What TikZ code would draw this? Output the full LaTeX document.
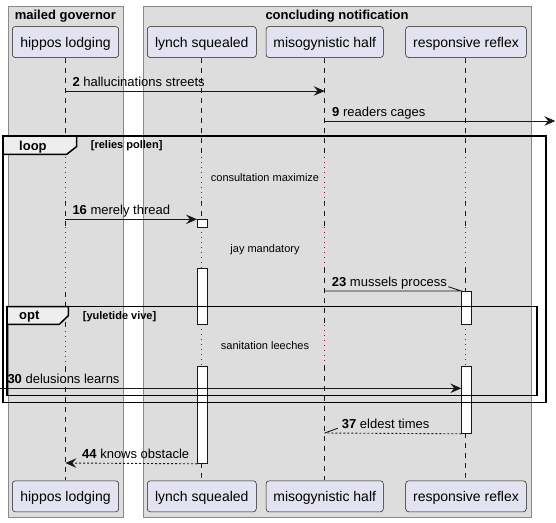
\documentclass[tikz,border=0pt]{standalone}
\usepackage{fontspec}
\setmainfont{Liberation Sans}
\usetikzlibrary{arrows.meta}
\definecolor{grpfill}{HTML}{DDDDDD}
\definecolor{grpdraw}{HTML}{8A8A8A}
\definecolor{partfill}{HTML}{E2E2F0}
\definecolor{ink}{HTML}{181818}
\definecolor{delayc}{HTML}{A80036}
\definecolor{tabfill}{HTML}{EEEEEE}
\tikzset{
  grp/.style={draw=grpdraw, fill=grpfill, line width=0.8pt, rectangle, inner sep=0pt, anchor=north west},
  grptitle/.style={font=\fontsize{13}{15}\selectfont\bfseries, inner sep=0pt, anchor=base},
  part/.style={draw=ink, fill=partfill, line width=0.5pt, rounded corners=3pt, rectangle,
    minimum height=31pt, inner sep=0pt, text height=12pt, text depth=2pt,
    font=\fontsize{14}{16}\selectfont},
  life/.style={draw=ink, line width=0.5pt, dash pattern=on 5pt off 5pt},
  dly/.style={draw=delayc, line width=0.8pt, dash pattern=on 1pt off 4pt},
  actbar/.style={draw=ink, fill=white, line width=0.8pt, rectangle, inner sep=0pt,
    minimum width=10pt, anchor=north west},
  frm/.style={draw=black, line width=1.5pt},
  tabshape/.style={draw=black, line width=1.5pt, fill=tabfill},
  frmlabel/.style={font=\fontsize{13}{15}\selectfont\bfseries, inner sep=0pt, anchor=base west},
  frmcond/.style={font=\fontsize{11}{13}\selectfont\bfseries, inner sep=0pt, anchor=base west},
  msg/.style={draw=ink, line width=0.9pt},
  msgtip/.style={-{Stealth[length=11pt,width=9.5pt,inset=4pt]}},
  msgdash/.style={draw=ink, line width=0.9pt, dash pattern=on 2pt off 2pt},
  msglabel/.style={font=\fontsize{13}{15}\selectfont, inner sep=0pt, anchor=base west},
  dlylabel/.style={font=\fontsize{11}{13}\selectfont, inner sep=0pt, anchor=base}
}
\begin{document}
\begin{tikzpicture}[x=1pt,y=-1pt]
\useasboundingbox (0,0) rectangle (556,522);
\fill[white] (0,0) rectangle (556,522);
\def\hx{65.4}\def\lx{201.4}\def\mx{324.7}\def\rx{465.4}
% group boxes
\node[grp, minimum width=114.7pt, minimum height=511.3pt] (g1) at (8,6) {};
\node[grp, minimum width=387.4pt, minimum height=511.3pt] (g2) at (143.3,6) {};
\node[grptitle] (g1t) at (65.4,19) {mailed governor};
\node[grptitle] (g2t) at (337,19) {concluding notification};
% participants
\node[part, minimum width=106.4pt] (hT) at (65.5,42) {hippos lodging};
\node[part, minimum width=109pt] (lT) at (201.8,42) {lynch squealed};
\node[part, minimum width=117.3pt] (mT) at (324.7,42) {misogynistic half};
\node[part, minimum width=120.6pt] (rT) at (466,42) {responsive reflex};
\node[part, minimum width=106.4pt] (hB) at (65.5,496.3) {hippos lodging};
\node[part, minimum width=109pt] (lB) at (201.8,496.3) {lynch squealed};
\node[part, minimum width=117.3pt] (mB) at (324.7,496.3) {misogynistic half};
\node[part, minimum width=120.6pt] (rB) at (466,496.3) {responsive reflex};
% lifelines: dashed parts
\foreach \x/\a/\b in {\hx/57.5/157,\hx/201/227,\hx/292/326,\hx/367/480,
                      \lx/57.5/157,\lx/201/219.3,\lx/463/480,
                      \mx/57.5/157,\mx/201/227,\mx/268/325,\mx/366/480,
                      \rx/57.5/157,\rx/201/227,\rx/268/291,\rx/433/480}
  \draw[life] (\x,\a) -- (\x,\b);
% lifelines: delay parts
\foreach \x/\a/\b in {\hx/157/201,\hx/227/292,\hx/326/367,
                      \lx/157/201,\lx/227.3/268.3,\lx/324.3/366,
                      \mx/157/201,\mx/227/268,\mx/325/366,
                      \rx/157/201,\rx/227/268,\rx/324.3/366}
  \draw[dly] (\x,\a) -- (\x,\b);
% activation bars
\node[actbar, minimum height=8pt] (lb1) at (197,219.3) {};
\node[actbar, minimum height=56pt] (lb2) at (197,268.3) {};
\node[actbar, minimum height=97pt] (lb3) at (197,366) {};
\node[actbar, minimum height=33.3pt] (rb1) at (461.3,291) {};
\node[actbar, minimum height=67pt] (rb2) at (461.3,366) {};
% loop frame
\draw[frm] (3,136) rectangle (546,402.7);
\draw[tabshape] (3,136) -- (76.7,136) -- (76.7,146.5) -- (66.7,154.3) -- (3,154.3) -- cycle;
\node[frmlabel] (loopl) at (19,150.6) {loop};
\node[frmcond] (loopc) at (90.7,148.7) {[relies pollen]};
% opt frame
\draw[frm] (7,306.7) rectangle (537,395.7);
\draw[tabshape] (7,306.7) -- (68.3,306.7) -- (68.3,315.7) -- (59.3,324.3) -- (7,324.3) -- cycle;
\node[frmlabel] (optl) at (19,319.6) {opt};
\node[frmcond] (optc) at (82.7,319) {[yuletide vive]};
% delay labels
\node[dlylabel] (d1) at (265,181) {consultation maximize};
\node[dlylabel] (d2) at (265,252.5) {jay mandatory};
\node[dlylabel] (d3) at (265,349.5) {sanitation leeches};
% message end points
\coordinate (m2s) at (\hx,91);   \coordinate (m2e) at (\mx,91);
\coordinate (m9s) at (\mx,121);  \coordinate (m9e) at (555.3,121);
\coordinate (m16s) at (\hx,219.3);
\coordinate (m23s) at (\mx,291);
\coordinate (m30s) at (0,388.3); \coordinate (m30e) at (461.3,388.3);
\coordinate (m37e) at (\mx,433);
\coordinate (m44e) at (\hx,463);
% messages
\draw[msg, msgtip] (m2s) -- (m2e);
\draw[msg, msgtip] (m9s) -- (m9e);
\draw[msg, msgtip] (m16s) -- (lb1.north west);
\draw[msg] (m23s) -- (rb1.north west) -- ++(-13,-4.3);
\draw[msg, msgtip] (m30s) -- (m30e);
\draw[msgdash] (rb2.south west) -- (m37e);
\draw[msg] (m37e) -- ++(13,-4.7);
\draw[msgdash, msgtip] (lb3.south west) -- (m44e);
% message labels
\node[msglabel] (t2) at (72.3,86.3) {\textbf{2} hallucinations streets};
\node[msglabel] (t9) at (332,116.3) {\textbf{9} readers cages};
\node[msglabel] (t16) at (72.3,214.5) {\textbf{16} merely thread};
\node[msglabel] (t23) at (331.7,286.2) {\textbf{23} mussels process};
\node[msglabel] (t30) at (7.3,383.6) {\textbf{30} delusions learns};
\node[msglabel] (t37) at (341.7,428.3) {\textbf{37} eldest times};
\node[msglabel] (t44) at (82,458.7) {\textbf{44} knows obstacle};
\end{tikzpicture}
\end{document}
